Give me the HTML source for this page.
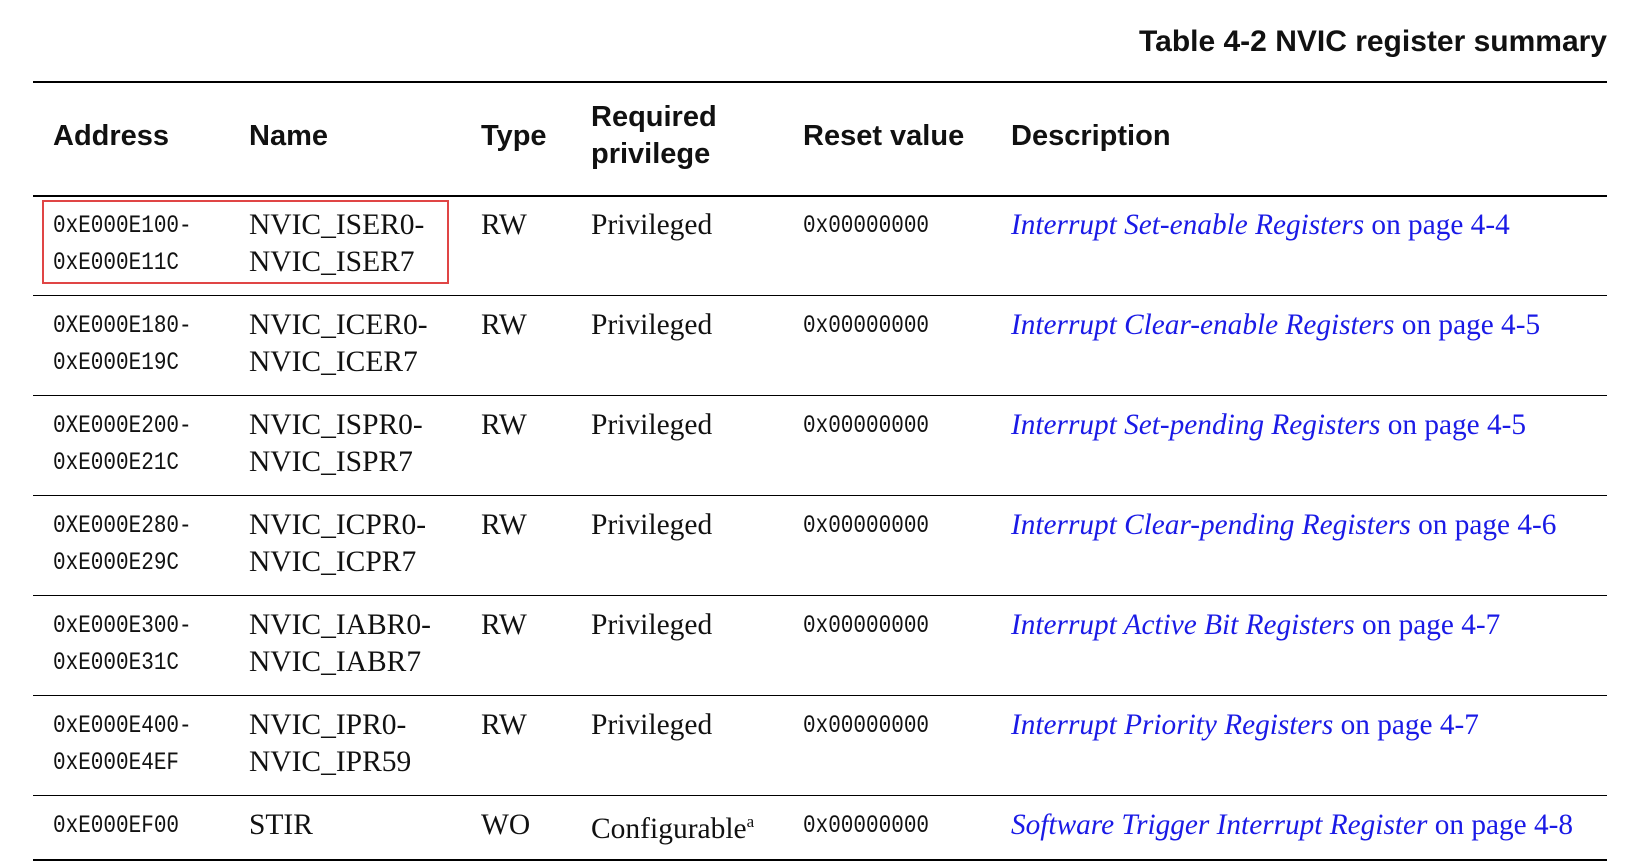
<!DOCTYPE html>
<html><head><meta charset="utf-8"><style>
body{margin:0;width:1638px;height:867px;background:#fff;position:relative;overflow:hidden;font-family:"Liberation Serif",serif;color:#111}
.a{position:absolute;white-space:nowrap;line-height:1}
.h{font-family:"Liberation Sans",sans-serif;font-weight:bold;font-size:29px}
.m{font-family:"Liberation Mono",monospace;font-size:21px;transform:scaleY(1.18);transform-origin:0 50%}
.s{font-size:29.5px}
.d{font-size:29.3px;color:#1a1ae6}
.d i{font-style:italic}
.ln{position:absolute;left:33px;width:1574px;background:#000}
</style></head><body>
<div class="a h" style="right:31px;top:27px;font-size:30px">Table 4-2 NVIC register summary</div>
<div class="ln" style="top:81px;height:2px"></div>
<div class="a h" style="left:53px;top:122px">Address</div>
<div class="a h" style="left:249px;top:122px">Name</div>
<div class="a h" style="left:481px;top:122px">Type</div>
<div class="a h" style="left:591px;top:103px">Required</div>
<div class="a h" style="left:591px;top:140px">privilege</div>
<div class="a h" style="left:803px;top:122px">Reset value</div>
<div class="a h" style="left:1011px;top:122px">Description</div>
<div class="ln" style="top:195px;height:2px"></div>
<div class="ln" style="top:295px;height:1px"></div>
<div class="ln" style="top:395px;height:1px"></div>
<div class="ln" style="top:495px;height:1px"></div>
<div class="ln" style="top:595px;height:1px"></div>
<div class="ln" style="top:695px;height:1px"></div>
<div class="ln" style="top:795px;height:1px"></div>
<div class="ln" style="top:859px;height:2px"></div>
<div style="position:absolute;left:42px;top:200px;width:407px;height:84px;border:2px solid #e04545;box-sizing:border-box"></div>

<div class="a m" style="left:53px;top:216px">0xE000E100-</div><div class="a m" style="left:53px;top:253px">0xE000E11C</div>
<div class="a s" style="left:249px;top:211px">NVIC_ISER0-</div><div class="a s" style="left:249px;top:248px">NVIC_ISER7</div>
<div class="a s" style="left:481px;top:211px">RW</div><div class="a s" style="left:591px;top:211px">Privileged</div>
<div class="a m" style="left:803px;top:216px">0x00000000</div>
<div class="a d" style="left:1011px;top:211px"><i>Interrupt Set-enable Registers</i> on page 4-4</div>

<div class="a m" style="left:53px;top:316px">0XE000E180-</div><div class="a m" style="left:53px;top:353px">0xE000E19C</div>
<div class="a s" style="left:249px;top:311px">NVIC_ICER0-</div><div class="a s" style="left:249px;top:348px">NVIC_ICER7</div>
<div class="a s" style="left:481px;top:311px">RW</div><div class="a s" style="left:591px;top:311px">Privileged</div>
<div class="a m" style="left:803px;top:316px">0x00000000</div>
<div class="a d" style="left:1011px;top:311px"><i>Interrupt Clear-enable Registers</i> on page 4-5</div>

<div class="a m" style="left:53px;top:416px">0XE000E200-</div><div class="a m" style="left:53px;top:453px">0xE000E21C</div>
<div class="a s" style="left:249px;top:411px">NVIC_ISPR0-</div><div class="a s" style="left:249px;top:448px">NVIC_ISPR7</div>
<div class="a s" style="left:481px;top:411px">RW</div><div class="a s" style="left:591px;top:411px">Privileged</div>
<div class="a m" style="left:803px;top:416px">0x00000000</div>
<div class="a d" style="left:1011px;top:411px"><i>Interrupt Set-pending Registers</i> on page 4-5</div>

<div class="a m" style="left:53px;top:516px">0XE000E280-</div><div class="a m" style="left:53px;top:553px">0xE000E29C</div>
<div class="a s" style="left:249px;top:511px">NVIC_ICPR0-</div><div class="a s" style="left:249px;top:548px">NVIC_ICPR7</div>
<div class="a s" style="left:481px;top:511px">RW</div><div class="a s" style="left:591px;top:511px">Privileged</div>
<div class="a m" style="left:803px;top:516px">0x00000000</div>
<div class="a d" style="left:1011px;top:511px"><i>Interrupt Clear-pending Registers</i> on page 4-6</div>

<div class="a m" style="left:53px;top:616px">0xE000E300-</div><div class="a m" style="left:53px;top:653px">0xE000E31C</div>
<div class="a s" style="left:249px;top:611px">NVIC_IABR0-</div><div class="a s" style="left:249px;top:648px">NVIC_IABR7</div>
<div class="a s" style="left:481px;top:611px">RW</div><div class="a s" style="left:591px;top:611px">Privileged</div>
<div class="a m" style="left:803px;top:616px">0x00000000</div>
<div class="a d" style="left:1011px;top:611px"><i>Interrupt Active Bit Registers</i> on page 4-7</div>

<div class="a m" style="left:53px;top:716px">0xE000E400-</div><div class="a m" style="left:53px;top:753px">0xE000E4EF</div>
<div class="a s" style="left:249px;top:711px">NVIC_IPR0-</div><div class="a s" style="left:249px;top:748px">NVIC_IPR59</div>
<div class="a s" style="left:481px;top:711px">RW</div><div class="a s" style="left:591px;top:711px">Privileged</div>
<div class="a m" style="left:803px;top:716px">0x00000000</div>
<div class="a d" style="left:1011px;top:711px"><i>Interrupt Priority Registers</i> on page 4-7</div>

<div class="a m" style="left:53px;top:816px">0xE000EF00</div>
<div class="a s" style="left:249px;top:811px">STIR</div>
<div class="a s" style="left:481px;top:811px">WO</div>
<div class="a s" style="left:591px;top:813px">Configurable<sup style="font-size:17px">a</sup></div>
<div class="a m" style="left:803px;top:816px">0x00000000</div>
<div class="a d" style="left:1011px;top:811px"><i>Software Trigger Interrupt Register</i> on page 4-8</div>
</body></html>
